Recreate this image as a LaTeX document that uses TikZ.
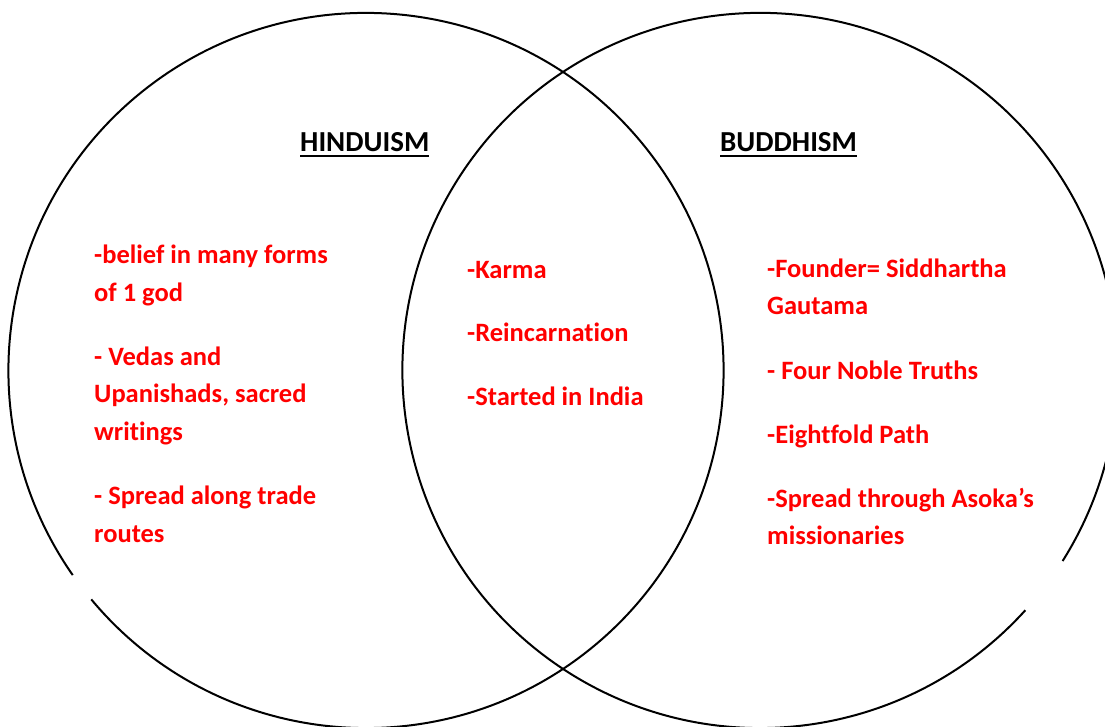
\documentclass[tikz,border=0pt]{standalone}
\usepackage{fontspec}
\setmainfont{Carlito}[Ligatures=NoCommon]
\usepackage{tikz}
\usetikzlibrary{calc, positioning}

\newcommand\hdgline[1]{\setbox0\hbox{#1}\rlap{\raisebox{-5.5pt}{\rule{\wd0}{2.4pt}}}\box0}

\tikzset{
  ring/.style={line width=2pt, black},
  hdg/.style={anchor=base west, inner sep=0pt, font=\fontsize{29}{37.5}\selectfont\bfseries},
  item/.style={anchor=base west, inner sep=0pt, align=left, text=red,
    font=\fontsize{26.5}{37.5}\selectfont\bfseries}
}

\begin{document}
\begin{tikzpicture}[x=1pt, y=1pt]
\useasboundingbox (0,0) rectangle (1105,727);
\clip (0,0) rectangle (1105,727);
\coordinate (lc) at (366,356.5);
\coordinate (rc) at (760,356.5);
\draw[ring] ($(lc)+(219.8:357.6)$) arc[start angle=219.8, end angle=574.9, radius=357.6];
\draw[ring] ($(rc)+(327.8:357.6)$) arc[start angle=327.8, end angle=677.9, radius=357.6];

\node[hdg] (hindu) at (300,575.5) {\hdgline{HINDUISM}};
\node[hdg] (buddha) at (720,575.5) {\hdgline{BUDDHISM}};

\node[item] (h1) at (94,425.5) {-belief in many forms\\of 1 god};
\node[item] (h2) at (94,286.5) {- Vedas and\\Upanishads, sacred\\writings};
\node[item] (h3) at (94,184.5) {- Spread along trade\\routes};

\node[item] (c1) at (467,448) {-Karma};
\node[item] (c2) at (467,385) {-Reincarnation};
\node[item] (c3) at (467,321) {-Started in India};

\node[item] (b1) at (767,412) {-Founder= Siddhartha\\Gautama};
\node[item] (b2) at (767,347) {- Four Noble Truths};
\node[item] (b3) at (767,283) {-Eightfold Path};
\node[item] (b4) at (767,182) {-Spread through Asoka’s\\missionaries};
\end{tikzpicture}
\end{document}
